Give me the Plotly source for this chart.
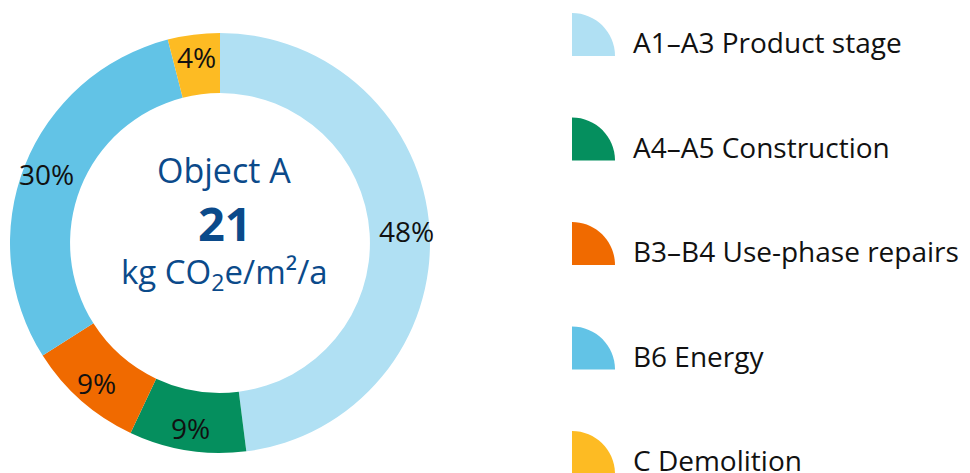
import math
import plotly.graph_objects as go

# Life-cycle stage shares of embodied + operational carbon
stages = ["A1–A3 Product stage", "A4–A5 Construction", "B3–B4 Use-phase repairs",
          "B6 Energy", "C Demolition"]
shares = [48, 9, 9, 30, 4]
colors = ["#b0e0f3", "#058f5e", "#f06a00", "#62c3e6", "#fdbb23"]

title_line = "Object A"
total_value = "21"
unit_line = "kg CO<sub>2</sub>e/m²/a"

W, H = 970, 473
FONT = "Open Sans"
NAVY = "#0b4a8a"

# donut geometry (pixels)
cx, cy, R_out = 220, 243, 210
hole = 0.714
R_lbl = 187

fig = go.Figure()
fig.add_trace(go.Pie(
    labels=stages, values=shares, sort=False, direction="clockwise", rotation=0,
    hole=hole, marker=dict(colors=colors, line=dict(width=0)),
    textinfo="none", hoverinfo="label+percent", showlegend=False,
    domain=dict(x=[(cx - R_out) / W, (cx + R_out) / W],
                y=[(H - cy - R_out) / H, (H - cy + R_out) / H]),
))

# invisible pixel-scaled axes for overlay text and legend icons
fig.update_xaxes(range=[0, W], visible=False, fixedrange=True)
fig.update_yaxes(range=[H, 0], visible=False, fixedrange=True)

annotations = []
total = sum(shares)
cum = 0
for v in shares:
    mid = (cum + v / 2) / total * 2 * math.pi
    cum += v
    annotations.append(dict(
        x=cx + R_lbl * math.sin(mid), y=cy - R_lbl * math.cos(mid),
        xref="x", yref="y", text=f"{v}%", showarrow=False,
        font=dict(family=FONT, size=28, color="#111111"),
        xanchor="center", yanchor="middle"))

annotations += [
    dict(x=cx + 4, y=170, text=title_line, font=dict(family=FONT, size=34, color=NAVY)),
    dict(x=cx + 5, y=223, text=f"<b>{total_value}</b>", font=dict(family=FONT, size=47, color=NAVY)),
    dict(x=cx + 4, y=273, text=unit_line, font=dict(family=FONT, size=33, color=NAVY)),
]
for a in annotations[-3:]:
    a.update(xref="x", yref="y", showarrow=False, xanchor="center", yanchor="middle")

# legend: quarter-circle swatches with labels
leg_x, leg_y0, leg_step, icon_r = 572, 42, 104.5, 43
k = 0.5523 * icon_r
shapes = []
for i, (name, col) in enumerate(zip(stages, colors)):
    ty = leg_y0 + i * leg_step
    bx, by = leg_x, ty + 14
    path = (f"M {bx},{by} L {bx},{by - icon_r} "
            f"C {bx + k},{by - icon_r} {bx + icon_r},{by - k} {bx + icon_r},{by} Z")
    shapes.append(dict(type="path", path=path, xref="x", yref="y",
                       fillcolor=col, line=dict(width=0)))
    annotations.append(dict(x=631, y=ty, xref="x", yref="y", text=name, showarrow=False,
                            xanchor="left", yanchor="middle",
                            font=dict(family=FONT, size=28, color="#111111")))

fig.update_layout(
    width=W, height=H, margin=dict(l=0, r=0, t=0, b=0),
    paper_bgcolor="white", plot_bgcolor="white",
    annotations=annotations, shapes=shapes,
)

fig.write_html("out.html")
